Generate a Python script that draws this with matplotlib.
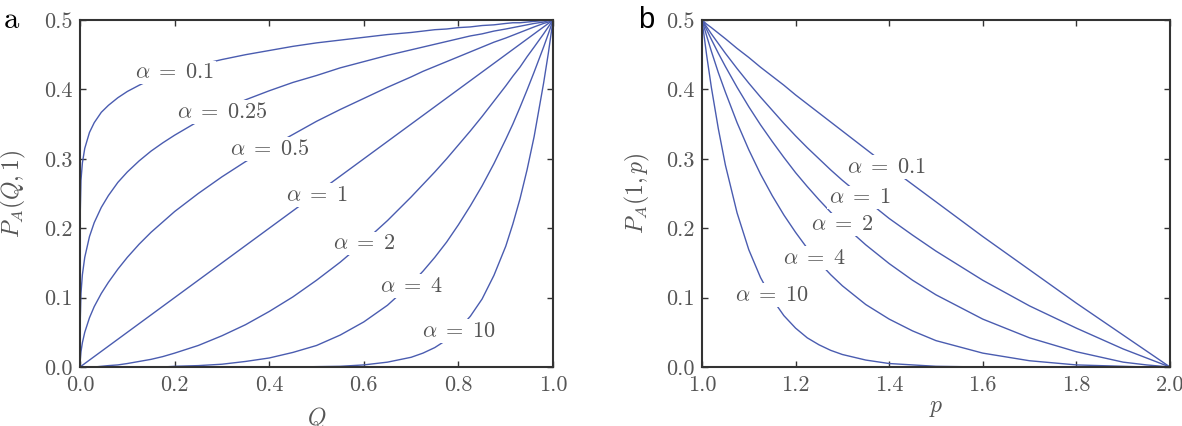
import matplotlib
matplotlib.use("Agg")
import matplotlib.pyplot as plt

# ---- data ----
alphas_a = ["0.1", "0.25", "0.5", "1", "2", "4", "10"]
Q = [0.0, 0.0002, 0.002, 0.005, 0.01, 0.02, 0.03, 0.045, 0.06, 0.08, 0.1, 0.125,
     0.15, 0.175, 0.2, 0.25, 0.3, 0.35, 0.4, 0.45, 0.5, 0.55, 0.6, 0.65, 0.7, 0.725,
     0.75, 0.775, 0.8, 0.825, 0.85, 0.875, 0.9, 0.915, 0.93, 0.945, 0.96, 0.98, 0.99, 1.0]
pa_q_01 = [0.0, 0.213, 0.269, 0.294, 0.315, 0.338, 0.352, 0.367, 0.377, 0.388, 0.397, 0.406,
           0.414, 0.420, 0.426, 0.435, 0.443, 0.450, 0.456, 0.462, 0.467, 0.471, 0.475, 0.479,
           0.482, 0.484, 0.486, 0.487, 0.489, 0.490, 0.492, 0.493, 0.495, 0.496, 0.496, 0.497,
           0.498, 0.499, 0.500, 0.5]
pa_q_025 = [0.0, 0.060, 0.106, 0.133, 0.158, 0.188, 0.208, 0.230, 0.247, 0.266, 0.281, 0.297,
            0.311, 0.323, 0.334, 0.354, 0.370, 0.385, 0.398, 0.410, 0.420, 0.431, 0.440, 0.449,
            0.457, 0.461, 0.465, 0.469, 0.473, 0.477, 0.480, 0.484, 0.487, 0.489, 0.491, 0.493,
            0.495, 0.497, 0.499, 0.5]
pa_q_05 = [0.0, 0.007, 0.022, 0.035, 0.050, 0.071, 0.087, 0.106, 0.122, 0.141, 0.158, 0.177,
           0.194, 0.209, 0.224, 0.250, 0.274, 0.296, 0.316, 0.335, 0.354, 0.371, 0.387, 0.403,
           0.418, 0.426, 0.433, 0.440, 0.447, 0.454, 0.461, 0.468, 0.474, 0.478, 0.482, 0.486,
           0.490, 0.495, 0.497, 0.5]
pa_q_1 = [0.0, 0.0001, 0.001, 0.0025, 0.005, 0.01, 0.015, 0.0225, 0.03, 0.04, 0.05, 0.0625,
          0.075, 0.0875, 0.1, 0.125, 0.15, 0.175, 0.2, 0.225, 0.25, 0.275, 0.3, 0.325,
          0.35, 0.3625, 0.375, 0.3875, 0.4, 0.4125, 0.425, 0.4375, 0.45, 0.4575, 0.465, 0.4725,
          0.48, 0.49, 0.495, 0.5]
pa_q_2 = [0.0, 0.0, 0.0, 0.0, 0.0, 0.0, 0.0, 0.001, 0.002, 0.003, 0.005, 0.008,
          0.011, 0.015, 0.020, 0.031, 0.045, 0.061, 0.080, 0.101, 0.125, 0.151, 0.180, 0.211,
          0.245, 0.263, 0.281, 0.300, 0.320, 0.340, 0.361, 0.383, 0.405, 0.419, 0.432, 0.447,
          0.461, 0.480, 0.490, 0.5]
pa_q_4 = [0.0, 0.0, 0.0, 0.0, 0.0, 0.0, 0.0, 0.0, 0.0, 0.0, 0.0, 0.0,
          0.0, 0.0, 0.001, 0.002, 0.004, 0.008, 0.013, 0.021, 0.031, 0.046, 0.065, 0.089,
          0.120, 0.138, 0.158, 0.180, 0.205, 0.232, 0.261, 0.293, 0.328, 0.350, 0.374, 0.399,
          0.425, 0.461, 0.480, 0.5]
pa_q_10 = [0.0, 0.0, 0.0, 0.0, 0.0, 0.0, 0.0, 0.0, 0.0, 0.0, 0.0, 0.0,
           0.0, 0.0, 0.0, 0.0, 0.0, 0.0, 0.0, 0.0, 0.0005, 0.001, 0.003, 0.007,
           0.014, 0.020, 0.028, 0.039, 0.054, 0.073, 0.098, 0.132, 0.174, 0.206, 0.242, 0.284,
           0.332, 0.409, 0.452, 0.5]
curves_a = [pa_q_01, pa_q_025, pa_q_05, pa_q_1, pa_q_2, pa_q_4, pa_q_10]

alphas_b = ["0.1", "1", "2", "4", "10"]
P = [1.0, 1.01, 1.02, 1.035, 1.05, 1.075, 1.1, 1.125, 1.15, 1.175, 1.2, 1.225,
     1.25, 1.275, 1.3, 1.35, 1.4, 1.45, 1.5, 1.6, 1.7, 1.8, 1.9, 1.95, 2.0]
pa_p_01 = [0.5, 0.494, 0.489, 0.481, 0.473, 0.459, 0.446, 0.432, 0.419, 0.406, 0.392, 0.379,
           0.366, 0.353, 0.340, 0.314, 0.288, 0.263, 0.238, 0.188, 0.140, 0.092, 0.046, 0.023, 0.0]
pa_p_1 = [0.5, 0.490, 0.480, 0.466, 0.452, 0.430, 0.409, 0.389, 0.370, 0.351, 0.333, 0.316,
          0.300, 0.284, 0.269, 0.241, 0.214, 0.190, 0.167, 0.125, 0.088, 0.056, 0.026, 0.013, 0.0]
pa_p_2 = [0.5, 0.486, 0.472, 0.452, 0.433, 0.403, 0.375, 0.349, 0.325, 0.302, 0.280, 0.260,
          0.241, 0.223, 0.206, 0.176, 0.149, 0.125, 0.104, 0.069, 0.042, 0.022, 0.007, 0.003, 0.0]
pa_p_4 = [0.5, 0.477, 0.455, 0.424, 0.396, 0.352, 0.313, 0.278, 0.247, 0.219, 0.194, 0.171,
          0.151, 0.133, 0.117, 0.090, 0.069, 0.052, 0.038, 0.020, 0.009, 0.003, 0.001, 0.0, 0.0]
pa_p_10 = [0.5, 0.449, 0.403, 0.343, 0.291, 0.222, 0.169, 0.129, 0.098, 0.074, 0.056, 0.042,
           0.032, 0.024, 0.018, 0.010, 0.005, 0.003, 0.001, 0.0, 0.0, 0.0, 0.0, 0.0, 0.0]
curves_b = [pa_p_01, pa_p_1, pa_p_2, pa_p_4, pa_p_10]

# where the inline labels sit (x position, y position)
label_pos_a = [(0.2, 0.424), (0.3, 0.368), (0.4, 0.314), (0.5, 0.248),
               (0.6, 0.178), (0.7, 0.117), (0.8, 0.052)]
label_pos_b = [(1.395, 0.288), (1.338, 0.244), (1.300, 0.205), (1.240, 0.157), (1.150, 0.104)]

line_color = "#4a5cb0"
text_color = "#555555"

plt.rcParams["font.family"] = "serif"
plt.rcParams["font.serif"] = ["cmr10"]
plt.rcParams["mathtext.fontset"] = "cm"
plt.rcParams["axes.formatter.use_mathtext"] = True

fig = plt.figure(figsize=(11.82, 4.26), dpi=100)
ax_a = fig.add_axes([0.0677, 0.1385, 0.4002, 0.8146])
ax_b = fig.add_axes([0.5939, 0.1385, 0.3959, 0.8146])

yticks = [0.0, 0.1, 0.2, 0.3, 0.4, 0.5]


def style_axes(ax, xlim, xticks):
    ax.set_xlim(xlim)
    ax.set_ylim(0, 0.5)
    ax.set_xticks(xticks)
    ax.set_yticks(yticks)
    ax.set_xticklabels([f"{t:.1f}" for t in xticks])
    ax.set_yticklabels([f"{t:.1f}" for t in yticks])
    ax.tick_params(direction="in", top=True, right=True, length=4, width=1,
                   color="#333333", labelcolor=text_color, labelsize=16)
    ax.tick_params(axis="x", pad=6)
    ax.tick_params(axis="y", pad=5)
    for s in ax.spines.values():
        s.set_color("#333333")
        s.set_linewidth(1.5)


def add_curves(ax, x, curves, alphas, positions):
    for y, lab, pos in zip(curves, alphas, positions):
        ax.plot(x, y, color=line_color, lw=1.0, clip_on=False)
        ax.text(pos[0], pos[1], r"$\alpha\;=\;" + lab + "$", ha="center", va="center",
                fontsize=16, color=text_color,
                bbox=dict(fc="white", ec="none", pad=1.5))


add_curves(ax_a, Q, curves_a, alphas_a, label_pos_a)
style_axes(ax_a, (0, 1), [0.0, 0.2, 0.4, 0.6, 0.8, 1.0])
ax_a.set_xlabel(r"$Q$", fontsize=17, color=text_color)
ax_a.xaxis.set_label_coords(0.5, -0.11)
ax_a.set_ylabel(r"$P_A(Q,1)$", fontsize=17, color=text_color)
ax_a.yaxis.set_label_coords(-0.11, 0.5)

add_curves(ax_b, P, curves_b, alphas_b, label_pos_b)
style_axes(ax_b, (1, 2), [1.0, 1.2, 1.4, 1.6, 1.8, 2.0])
ax_b.set_xlabel(r"$p$", fontsize=17, color=text_color)
ax_b.xaxis.set_label_coords(0.5, -0.085)
ax_b.set_ylabel(r"$P_A(1,p)$", fontsize=17, color=text_color)
ax_b.yaxis.set_label_coords(-0.107, 0.5)

# panel letters: "a" is a serif face, "b" a sans face in the reference
fig.text(0.003, 0.953, "a", fontsize=22, family=["cmr10"], va="center", ha="left")
fig.text(0.540, 0.953, "b", fontsize=21, family=["Liberation Sans", "DejaVu Sans"],
         va="center", ha="left")

fig.savefig("out.png", dpi=100)
